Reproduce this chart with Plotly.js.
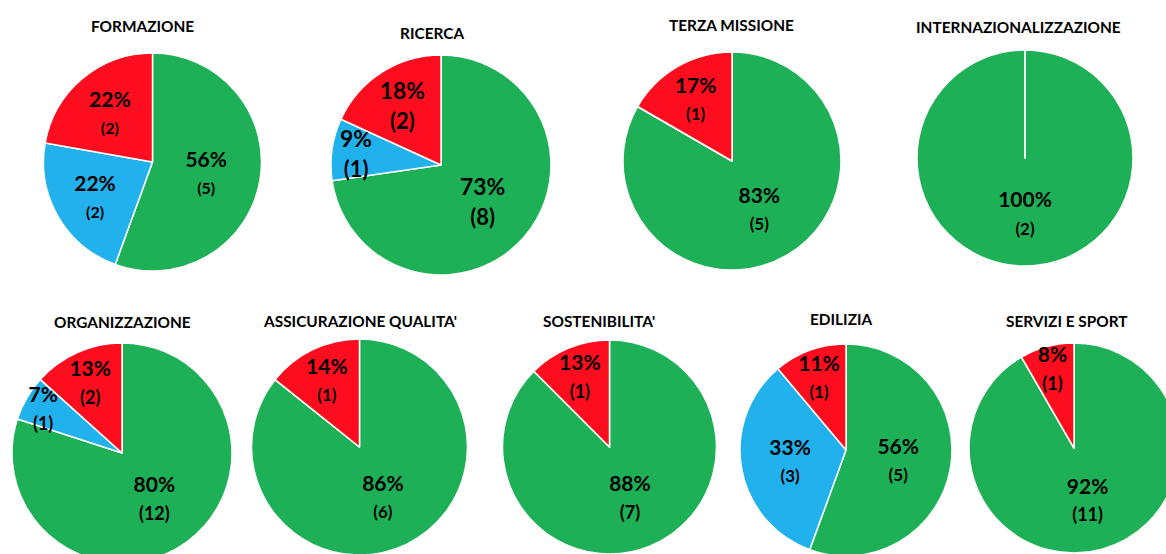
<!DOCTYPE html>
<html>
<head>
<meta charset="utf-8">
<script src="https://cdn.plot.ly/plotly-3.0.1.min.js"></script>
<style>
html, body { margin: 0; padding: 0; overflow: hidden; background: #ffffff; }
#chart { width: 1200px; height: 620px; }
</style>
</head>
<body>
<div id="chart"></div>
<script>
// ---- data ----
const categories = ["FORMAZIONE", "RICERCA", "TERZA MISSIONE", "INTERNAZIONALIZZAZIONE",
  "ORGANIZZAZIONE", "ASSICURAZIONE QUALITA'", "SOSTENIBILITA'", "EDILIZIA", "SERVIZI E SPORT"];
const statusNames = ["Verde", "Azzurro", "Rosso"];
const greenValues = [5, 8, 5, 2, 12, 6, 7, 5, 11];
const blueValues  = [2, 1, 0, 0, 1, 0, 0, 3, 0];
const redValues   = [2, 2, 1, 0, 2, 1, 1, 1, 1];

// ---- layout geometry (pixels in a 1200x620 canvas, clipped by the window) ----
const W = 1200, H = 620;
const pieBoxes = [
  {cx: 152.5, cy: 162, r: 109, tx: 142.5, ty: 26, pct: 21, cnt: 16},
  {cx: 441,   cy: 165, r: 110, tx: 431.5, ty: 33, pct: 24, cnt: 23},
  {cx: 732,   cy: 161, r: 109, tx: 731,   ty: 25, pct: 21, cnt: 17},
  {cx: 1025,  cy: 158, r: 108, tx: 1018,  ty: 27, pct: 21, cnt: 17},
  {cx: 122,   cy: 453, r: 110, tx: 122,   ty: 322, pct: 21, cnt: 18},
  {cx: 359.5, cy: 447, r: 108, tx: 360,   ty: 321, pct: 21, cnt: 17},
  {cx: 609.5, cy: 447, r: 107, tx: 599,   ty: 321, pct: 21, cnt: 18},
  {cx: 846,   cy: 450, r: 106, tx: 841,   ty: 319, pct: 21, cnt: 17},
  {cx: 1074,  cy: 448, r: 105, tx: 1067,  ty: 321, pct: 21, cnt: 18}
];
const colors = ["#1EB056", "#21B1EC", "#FD0D1D"];
const NB = "\u00a0";

const traces = [];
const annotations = [];
categories.forEach((cat, i) => {
  const b = pieBoxes[i];
  const vals = [greenValues[i], blueValues[i], redValues[i]];
  const total = vals.reduce((a, c) => a + c, 0);
  const tpl = "<b>%{percent:.0%}</b><br><b><span style='font-size:" + b.cnt + "px'>(%{value})</span></b>";
  // a slice filling the whole pie gets its label pushed below the centre
  const fullTpl = NB + "<br>" + NB + "<br>" + NB + "<br>" + NB + "<br>" + tpl;
  traces.push({
    type: "pie",
    labels: statusNames,
    values: vals,
    sort: false,
    direction: "clockwise",
    rotation: 0,
    marker: {colors: colors, line: {color: "#ffffff", width: 1.5}},
    texttemplate: vals.map(v => v === 0 ? "" : (v === total ? fullTpl : tpl)),
    textposition: "inside",
    insidetextorientation: "horizontal",
    insidetextfont: {family: "Lato, 'Open Sans', sans-serif", size: b.pct, color: "#000000"},
    hoverinfo: "label+value+percent",
    showlegend: false,
    domain: {
      x: [(b.cx - b.r) / W, (b.cx + b.r) / W],
      y: [1 - (b.cy + b.r) / H, 1 - (b.cy - b.r) / H]
    }
  });
  annotations.push({
    text: "<b>" + cat + "</b>",
    xref: "paper", yref: "paper",
    x: b.tx / W, y: 1 - b.ty / H,
    xanchor: "center", yanchor: "middle",
    showarrow: false,
    font: {family: "Lato, 'Open Sans', sans-serif", size: 15.4, color: "#000000"}
  });
});

const layout = {
  width: W, height: H,
  margin: {l: 0, r: 0, t: 0, b: 0},
  paper_bgcolor: "#ffffff",
  plot_bgcolor: "#ffffff",
  showlegend: false,
  uniformtext: {minsize: 21, mode: "show"},
  annotations: annotations
};

Plotly.newPlot("chart", traces, layout, {displayModeBar: false, staticPlot: true});
</script>
</body>
</html>
